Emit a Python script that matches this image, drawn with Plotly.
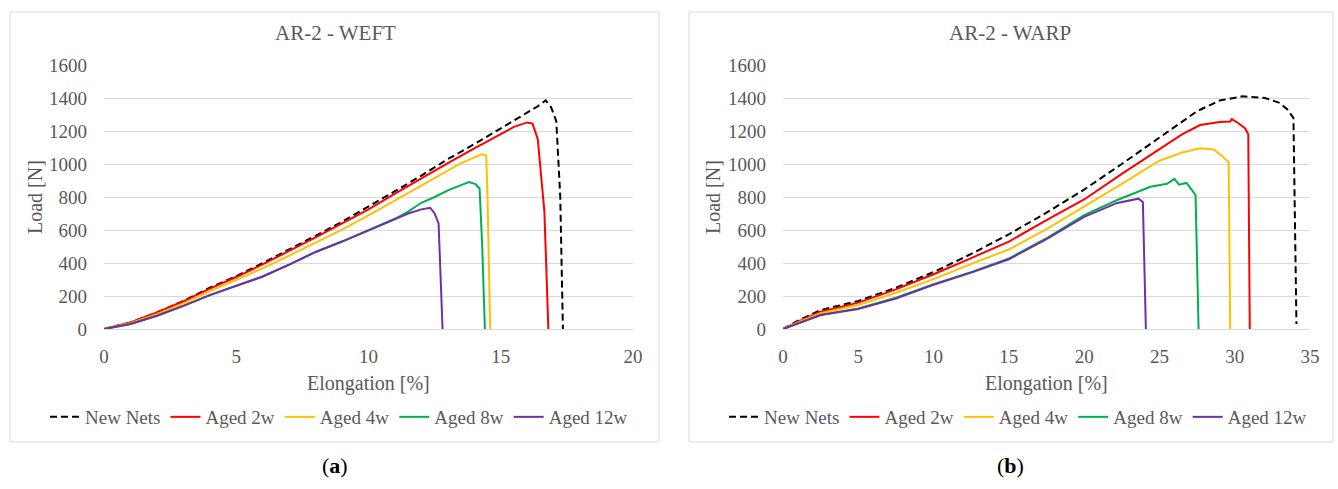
import plotly.graph_objects as go

# ---------------- DATA: AR-2 WEFT ----------------
weft_new_x = [0, 1, 2, 3, 4, 5, 6, 7, 8, 9, 10, 11, 12, 13, 14, 15, 16, 16.4, 16.7, 16.9, 17.1, 17.25, 17.35]
weft_new_y = [0, 40, 100, 170, 250, 320, 400, 480, 565, 650, 740, 835, 930, 1030, 1120, 1215, 1310, 1350, 1385, 1345, 1260, 800, 0]

weft_2w_x = [0, 1, 2, 3, 4, 5, 6, 7, 8, 9, 10, 11, 12, 13, 14, 15, 15.5, 16.0, 16.2, 16.4, 16.65, 16.8]
weft_2w_y = [0, 40, 100, 168, 245, 315, 392, 472, 555, 640, 725, 820, 915, 1005, 1095, 1185, 1225, 1252, 1245, 1150, 710, 0]

weft_4w_x = [0, 1, 2, 3, 4, 5, 6, 7, 8, 9, 10, 11, 12, 13, 13.5, 14.0, 14.3, 14.45, 14.5, 14.6]
weft_4w_y = [0, 35, 90, 155, 228, 298, 368, 445, 522, 602, 688, 778, 868, 958, 1005, 1040, 1060, 1050, 800, 0]

weft_8w_x = [0, 1, 2, 3, 4, 5, 6, 7, 8, 9, 10, 11, 11.5, 12, 12.5, 13, 13.5, 13.8, 14.05, 14.2, 14.3, 14.4]
weft_8w_y = [0, 30, 80, 140, 205, 262, 318, 390, 467, 530, 600, 668, 712, 765, 800, 840, 872, 890, 878, 850, 500, 0]

weft_12w_x = [0, 1, 2, 3, 4, 5, 6, 7, 8, 9, 10, 11, 11.5, 12, 12.33, 12.5, 12.65, 12.8]
weft_12w_y = [0, 30, 80, 140, 205, 262, 318, 390, 467, 530, 597, 665, 700, 725, 735, 700, 640, 0]

# ---------------- DATA: AR-2 WARP ----------------
warp_new_x = [0, 1, 2.5, 5, 7.5, 10, 12.5, 15, 17.5, 20, 22.5, 25, 27.5, 29, 30.5, 32, 33, 33.5, 33.9, 34.1]
warp_new_y = [0, 50, 115, 170, 250, 345, 455, 574, 705, 845, 1000, 1160, 1320, 1385, 1410, 1400, 1370, 1330, 1280, 30]

warp_2w_x = [0, 1, 2.5, 5, 7.5, 10, 12.5, 15, 17.5, 20, 22.5, 25, 26.5, 27.7, 29.0, 29.7, 29.8, 30.2, 30.7, 30.9, 31.0]
warp_2w_y = [0, 45, 105, 160, 240, 332, 430, 530, 660, 785, 940, 1090, 1180, 1236, 1255, 1258, 1272, 1250, 1215, 1180, 0]

warp_4w_x = [0, 1, 2.5, 5, 7.5, 10, 12.5, 15, 17.5, 20, 22.5, 25, 26.5, 27.7, 28.6, 29.2, 29.6, 29.7]
warp_4w_y = [0, 40, 95, 145, 220, 302, 395, 482, 605, 740, 880, 1020, 1070, 1095, 1088, 1045, 1010, 0]

warp_8w_x = [0, 1, 2.5, 5, 7.5, 10, 12.5, 15, 17.5, 20, 22.2, 24.4, 25.5, 26.0, 26.3, 26.8, 27.2, 27.4, 27.6]
warp_8w_y = [0, 35, 85, 125, 190, 272, 345, 427, 550, 690, 782, 862, 880, 910, 875, 885, 840, 812, 0]

warp_12w_x = [0, 1, 2.5, 5, 7.5, 10, 12.5, 15, 17.5, 20, 22.2, 23.6, 23.9, 24.1]
warp_12w_y = [0, 35, 85, 121, 185, 268, 342, 423, 545, 680, 764, 790, 770, 0]

series_names = ["New Nets", "Aged 2w", "Aged 4w", "Aged 8w", "Aged 12w"]
panel_titles = ["AR-2 - WEFT", "AR-2 - WARP"]
panel_labels = ["a", "b"]
x_title = "Elongation [%]"
y_title = "Load [N]"

colors = ["#000000", "#ff0000", "#ffc000", "#00b050", "#7030a0"]
dashes = ["7px,4px", "solid", "solid", "solid", "solid"]

weft = [(weft_new_x, weft_new_y), (weft_2w_x, weft_2w_y), (weft_4w_x, weft_4w_y),
        (weft_8w_x, weft_8w_y), (weft_12w_x, weft_12w_y)]
warp = [(warp_new_x, warp_new_y), (warp_2w_x, warp_2w_y), (warp_4w_x, warp_4w_y),
        (warp_8w_x, warp_8w_y), (warp_12w_x, warp_12w_y)]

W, H = 1338, 489
FONT = "Liberation Serif"
GRAY = "#595959"
GRID = "#d9d9d9"

def px(x):
    return x / W

def py(y):
    return 1 - y / H

fig = go.Figure()
for i, (xs, ys) in enumerate(weft):
    fig.add_trace(go.Scatter(x=xs, y=ys, mode="lines", name=series_names[i],
                             line=dict(color=colors[i], width=2, dash=dashes[i]),
                             xaxis="x", yaxis="y", legend="legend"))
for i, (xs, ys) in enumerate(warp):
    fig.add_trace(go.Scatter(x=xs, y=ys, mode="lines", name=series_names[i],
                             line=dict(color=colors[i], width=2, dash=dashes[i]),
                             xaxis="x2", yaxis="y2", legend="legend2"))

ax_common = dict(tickfont=dict(family=FONT, size=19, color=GRAY), showline=False,
                 ticks="", fixedrange=True, automargin=False)
ydom = [py(329), py(65)]
leg_common = dict(orientation="h", y=py(417), yanchor="middle",
                  font=dict(family=FONT, size=19, color=GRAY), bgcolor="rgba(0,0,0,0)",
                  itemwidth=30, tracegroupgap=0)
fig.update_layout(
    template="none",
    width=W, height=H, margin=dict(l=0, r=0, t=0, b=0, pad=0, autoexpand=False),
    paper_bgcolor="white", plot_bgcolor="white",
    font=dict(family=FONT, color=GRAY),
    xaxis=dict(domain=[px(104), px(633)], range=[0, 20], dtick=5, showgrid=False,
               zeroline=False, anchor="y", ticklabelstandoff=14, **ax_common),
    yaxis=dict(domain=ydom, range=[0, 1600], dtick=200, showgrid=True, gridcolor=GRID,
               gridwidth=1, zeroline=True, zerolinecolor=GRID, zerolinewidth=1, anchor="x",
               ticklabelstandoff=16, **ax_common),
    xaxis2=dict(domain=[px(783), px(1310)], range=[0, 35], dtick=5, showgrid=False,
                zeroline=False, anchor="y2", ticklabelstandoff=14, **ax_common),
    yaxis2=dict(domain=ydom, range=[0, 1600], dtick=200, showgrid=True, gridcolor=GRID,
                gridwidth=1, zeroline=True, zerolinecolor=GRID, zerolinewidth=1, anchor="x2",
                ticklabelstandoff=16, **ax_common),
    legend=dict(x=px(45), xanchor="left", **leg_common),
    legend2=dict(x=px(724), xanchor="left", **leg_common),
    showlegend=True,
)

# panel borders
for (x0, x1) in [(10, 659), (689, 1333)]:
    fig.add_shape(type="rect", xref="paper", yref="paper", x0=px(x0), x1=px(x1),
                  y0=py(442), y1=py(12), line=dict(color=GRID, width=1), layer="below")

# titles and axis titles
for cx, title in zip([335, 1010], panel_titles):
    fig.add_annotation(text=title, x=px(cx), y=py(33), xref="paper", yref="paper",
                       showarrow=False, xanchor="center", yanchor="middle",
                       font=dict(family=FONT, size=21, color=GRAY))
for cx in [368, 1046]:
    fig.add_annotation(text=x_title, x=px(cx), y=py(383), xref="paper", yref="paper",
                       showarrow=False, xanchor="center", yanchor="middle",
                       font=dict(family=FONT, size=20, color=GRAY))
for cx in [35, 713]:
    fig.add_annotation(text=y_title, x=px(cx), y=py(197), xref="paper", yref="paper",
                       showarrow=False, xanchor="center", yanchor="middle", textangle=-90,
                       font=dict(family=FONT, size=20, color=GRAY))
for cx, lab in zip([335, 1010], panel_labels):
    fig.add_annotation(text="(<b>" + lab + "</b>)", x=px(cx), y=py(465), xref="paper",
                       yref="paper", showarrow=False, xanchor="center", yanchor="middle",
                       font=dict(family=FONT, size=22, color="#000000"))

fig.write_html("out.html", config={"displayModeBar": False},
               post_script="document.body.style.margin='0';")
